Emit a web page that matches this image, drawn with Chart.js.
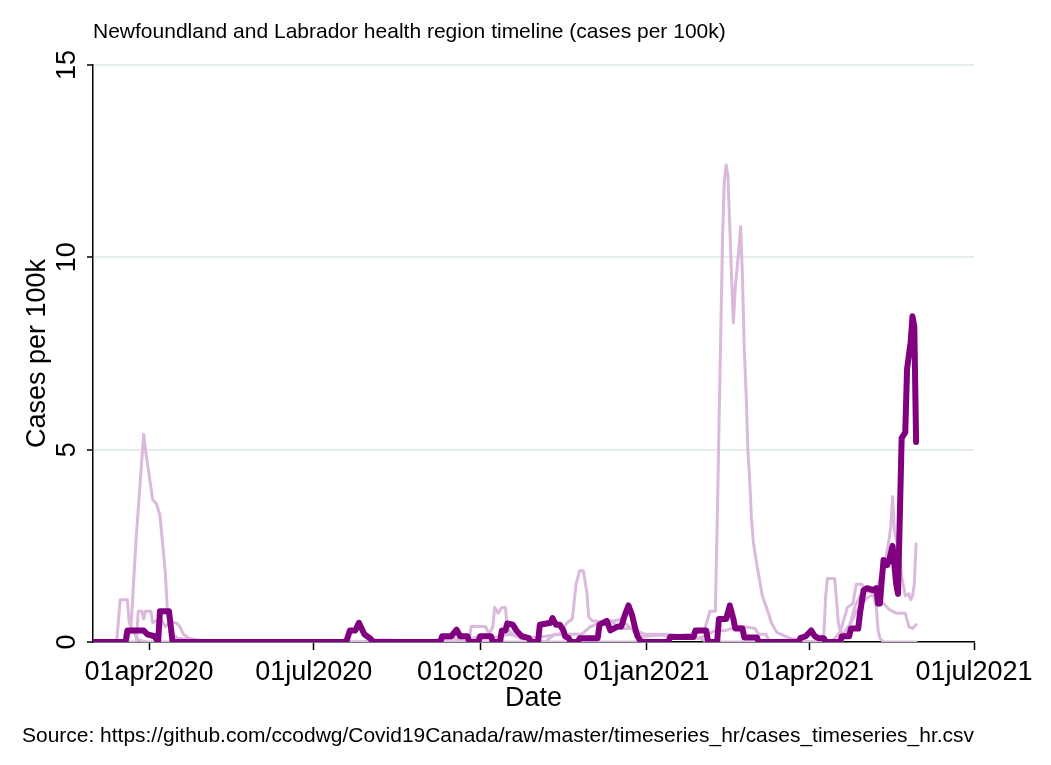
<!DOCTYPE html>
<html><head><meta charset="utf-8">
<script src="https://cdn.jsdelivr.net/npm/chart.js@4/dist/chart.umd.min.js"></script>
<style>html,body{margin:0;padding:0;background:#fff;} #wrap{width:1051px;height:765px;}</style>
</head><body><div id="wrap"><canvas id="c" width="1051" height="765"></canvas></div>
<script>
// x values are days counted from 01mar2020
const tickDays = [31, 122, 214, 306, 396, 487];
const tickLabels = ['01apr2020', '01jul2020', '01oct2020', '01jan2021', '01apr2021', '01jul2021'];
const yTicks = [0, 5, 10, 15];

const centralDays = [0,18,19,28,30,34,36,37,42,44,140,142,145,147,150,153,155,192,193,198,201,203,207,208,213,214,220,221,225,226,228,229,232,234,237,241,242,246,247,253,254,256,258,260,261,263,264,268,269,277,279,280,284,286,290,292,294,296,298,300,301,303,318,319,332,333,339,340,345,346,350,352,354,355,359,360,367,368,390,391,394,397,399,401,404,405,413,414,418,419,423,424,426,428,431,433,434,435,436,437,439,440,441,442,443,444,445,447,449,450,452,453,454,455];
const centralCases = [0,0,0.3,0.3,0.2,0.15,0,0.8,0.8,0,
 0,0.3,0.3,0.5,0.2,0.1,0,0,0.15,0.15,
 0.32,0.15,0.15,0,0,0.15,0.15,0,0,0.3,
 0.3,0.48,0.45,0.3,0.15,0.1,0,0,0.45,0.5,
 0.62,0.45,0.45,0.3,0.15,0.1,0,0,0.1,0.1,
 0.1,0.45,0.55,0.3,0.4,0.4,0.7,0.95,0.7,0.3,
 0.15,0,0,0.13,0.13,0.3,0.3,0,0,0.6,
 0.6,0.95,0.6,0.35,0.35,0.12,0.12,0,0,0.1,
 0.15,0.3,0.15,0.1,0.1,0,0,0.15,0.15,0.35,
 0.35,0.75,1.35,1.4,1.35,1.4,1.0,1.0,1.6,2.13,
 2.0,2.1,2.3,2.5,2.0,1.5,1.25,5.3,5.45,7.1,
 7.8,8.47,8.2,5.2];

const easternDays = [0,19,21,24,28,29,33,35,37,40,41,42,44,47,54,60,209,210,215,220,230,240,250,258,262,265,267,269,271,273,274,276,285,292,296,300,305,310,320,330,338,341,344,345,346,347,348,349,350,351,352,353,354,355,357,358,359,360,361,362,363,364,365,367,370,373,375,378,385,390,395,408,410,413,417,420,422,425,428,433,436,438,440,441,442,443,444,445,447,449,451,452,453,454,455];
const easternCases = [0,0,0.4,2.8,5.4,5.0,3.7,3.6,3.3,1.8,
 0.9,0.5,0.2,0.1,0.05,0,0,0.1,0.15,0.1,
 0.2,0.1,0.15,0.2,0.5,0.6,1.5,1.85,1.85,1.3,
 0.65,0.55,0.5,0.6,0.4,0.3,0.2,0.2,0.15,0.2,
 0.3,0.8,0.8,3.0,5.5,8.0,10.5,12.0,12.4,12.1,
 10.8,9.5,8.3,9.2,10.2,10.8,9.5,7.6,6.5,5.0,
 4.2,3.2,2.6,2.0,1.2,0.8,0.5,0.25,0.1,0.05,
 0,0,0.1,0.25,0.9,1.0,1.5,1.5,1.3,1.3,
 1.8,2.1,2.65,3.0,3.78,2.9,2.65,2.5,1.7,1.2,
 1.25,1.1,1.2,1.5,2.55];

const labradorDays = [0,13,14,15,19,20,21,23,25,30,150,155,165,170,208,209,217,219,221,222,224,226,228,229,232,236,245,250,300,305,315,325,335,340,400,404,405,406,410,411,412,413,415,418,421,424,427,431,433,434,435,437,455];
const labradorCases = [0,0,0.5,1.1,1.1,0.5,0.4,0.2,0.05,0,
 0,0.05,0.05,0,0,0.4,0.4,0.2,0.4,0.9,
 0.75,0.9,0.9,0.35,0.2,0.1,0.05,0,0,0.15,
 0.2,0.15,0.1,0,0,0.2,1.2,1.65,1.65,1.1,
 0.5,0.3,0.2,0.4,0.9,1.2,1.4,1.3,0.9,0.3,
 0.1,0,0];

const westernDays = [0,24,25,27,28,29,32,33,35,38,40,42,46,48,50,53,58,65,185,190,200,207,250,255,270,275,280,287,290,298,300,305,318,326,335,340,344,350,356,360,366,368,372,374,414,416,419,422,425,428,432,434,437,440,444,449,451,453,455];
const westernCases = [0,0,0.8,0.8,0.6,0.8,0.8,0.5,0.55,0.55,
 0.4,0.5,0.5,0.4,0.2,0.1,0.05,0,0,0.05,
 0.1,0,0,0.2,0.2,0.4,0.5,0.55,0.35,0.35,
 0.2,0.15,0.2,0.15,0.1,0.2,0.3,0.3,0.4,0.4,
 0.35,0.2,0.2,0,0,0.3,0.5,0.8,1.0,1.15,
 1.25,1.2,1.0,0.85,0.75,0.75,0.4,0.35,0.45];

const titleText = 'Newfoundland and Labrador health region timeline (cases per 100k)';
const noteText = 'Source: https://github.com/ccodwg/Covid19Canada/raw/master/timeseries_hr/cases_timeseries_hr.csv';

const pts = (d, v) => d.map((x, i) => ({x: x, y: v[i]}));
const LIGHT = '#dbb9dc';
const FONT = "'Liberation Sans', Arial, sans-serif";
Chart.defaults.font.family = FONT;
Chart.defaults.color = '#000';

new Chart(document.getElementById('c'), {
  type: 'line',
  data: {
    datasets: [
      {label: 'Central', data: pts(centralDays, centralCases), borderColor: '#800080', borderWidth: 6},
      {label: 'Eastern', data: pts(easternDays, easternCases), borderColor: LIGHT, borderWidth: 3},
      {label: 'Labrador-Grenfell', data: pts(labradorDays, labradorCases), borderColor: LIGHT, borderWidth: 3},
      {label: 'Western', data: pts(westernDays, westernCases), borderColor: LIGHT, borderWidth: 3}
    ]
  },
  options: {
    responsive: false,
    animation: false,
    devicePixelRatio: 1,
    layout: {padding: {left: 22, right: 77, top: 0, bottom: 0}},
    elements: {
      point: {radius: 0},
      line: {tension: 0, borderJoinStyle: 'round', borderCapStyle: 'round', fill: false}
    },
    plugins: {
      legend: {display: false},
      tooltip: {enabled: false},
      title: {display: true, text: titleText, align: 'start', fullSize: false, color: '#000',
        font: {family: FONT, size: 21, weight: 'normal'}, padding: {top: 20, bottom: 19.8}},
      subtitle: {display: true, text: noteText, position: 'bottom', align: 'start', color: '#000',
        font: {family: FONT, size: 21, weight: 'normal'}, padding: {top: 4.4, bottom: 16.4}}
    },
    scales: {
      x: {
        type: 'linear', min: 0, max: 487,
        afterBuildTicks: s => { s.ticks = tickDays.map(v => ({value: v})); },
        afterFit: s => { s.height = 77; },
        ticks: {callback: v => tickLabels[tickDays.indexOf(v)], color: '#000', font: {size: 27},
          minRotation: 0, maxRotation: 0, autoSkip: false, padding: 6},
        grid: {drawOnChartArea: false, tickLength: 8, tickColor: '#000', tickWidth: 1.5},
        border: {color: '#000', width: 1.5},
        title: {display: true, text: 'Date', color: '#000', font: {size: 27}, padding: {top: 0, bottom: 4}}
      },
      y: {
        min: 0, max: 15,
        afterBuildTicks: s => { s.ticks = yTicks.map(v => ({value: v})); },
        afterFit: s => { s.width = 71; },
        ticks: {minRotation: 90, maxRotation: 90, crossAlign: 'center', padding: 4, color: '#000', font: {size: 27}},
        grid: {color: '#e4eef1', lineWidth: 2, tickColor: '#000', tickLength: 6, tickWidth: 1.5},
        border: {color: '#000', width: 1.5},
        title: {display: true, text: 'Cases per 100k', color: '#000', font: {size: 27}, padding: {top: -1, bottom: 0}}
      }
    }
  }
});
</script>
</body></html>
